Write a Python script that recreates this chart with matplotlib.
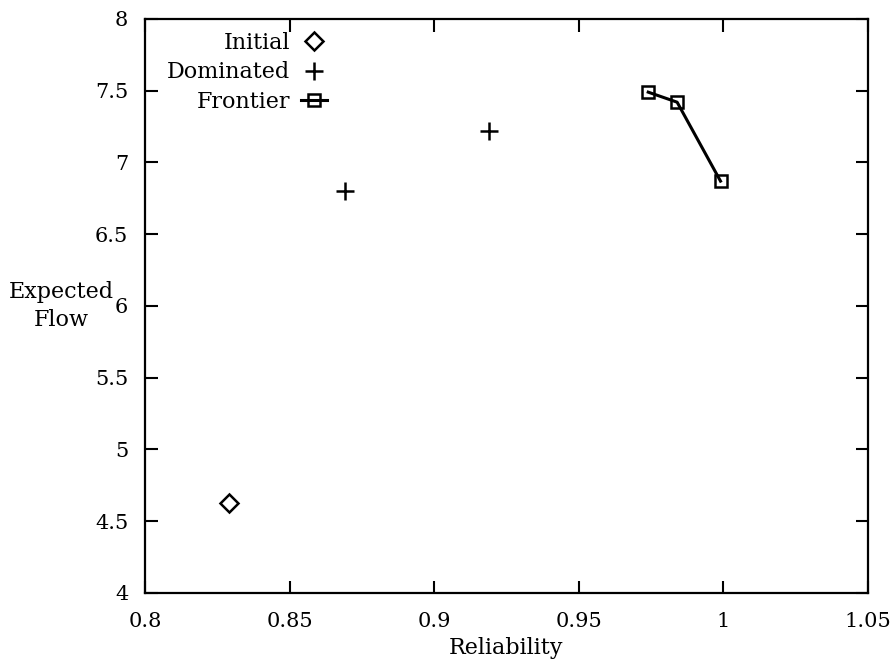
import matplotlib.pyplot as plt

# Reliability vs expected flow for the candidate designs
initial_rel = [0.829]
initial_flow = [4.63]

dominated_rel = [0.869, 0.919]
dominated_flow = [6.80, 7.22]

frontier_rel = [0.974, 0.984, 0.999]
frontier_flow = [7.49, 7.42, 6.87]

x_ticks = [0.8, 0.85, 0.9, 0.95, 1.0, 1.05]
x_tick_labels = ['0.8', '0.85', '0.9', '0.95', '1', '1.05']
y_ticks = [4, 4.5, 5, 5.5, 6, 6.5, 7, 7.5, 8]
y_tick_labels = ['4', '4.5', '5', '5.5', '6', '6.5', '7', '7.5', '8']

plt.rcParams['font.family'] = ['DejaVu Serif']

fig = plt.figure(figsize=(8.91, 6.65), dpi=100)
ax = fig.add_axes([0.1627, 0.1083, 0.8115, 0.8632])

ax.plot(initial_rel, initial_flow, linestyle='none', marker='D', markersize=9,
        markerfacecolor='none', markeredgecolor='black', markeredgewidth=1.8,
        label='Initial')
ax.plot(dominated_rel, dominated_flow, linestyle='none', marker='+', markersize=13,
        color='black', markeredgewidth=1.8, label='Dominated')
ax.plot(frontier_rel, frontier_flow, color='black', linewidth=2.2, marker='s',
        markersize=9, markerfacecolor='none', markeredgecolor='black',
        markeredgewidth=1.8, label='Frontier')

ax.set_xlim(0.8, 1.05)
ax.set_ylim(4, 8)
ax.set_xticks(x_ticks)
ax.set_xticklabels(x_tick_labels)
ax.set_yticks(y_ticks)
ax.set_yticklabels(y_tick_labels)
ax.tick_params(direction='in', length=9, width=1.5, top=True, right=True,
               labelsize=15)
ax.tick_params(axis='x', pad=14)
ax.tick_params(axis='y', pad=12)
for spine in ax.spines.values():
    spine.set_linewidth(1.6)

ax.set_xlabel('Reliability', fontsize=16, labelpad=4)
ax.set_ylabel('Expected\nFlow', fontsize=16, rotation=0, ha='center',
              va='center', linespacing=1.35)
ax.yaxis.set_label_coords(-0.116, 0.5)

ax.legend(loc='upper right', bbox_to_anchor=(0.252, 0.978), frameon=False,
          markerfirst=False, fontsize=16, handlelength=1.2, handletextpad=0.45,
          labelspacing=0.35, borderaxespad=0, borderpad=0)

fig.savefig('out.png', dpi=100)
